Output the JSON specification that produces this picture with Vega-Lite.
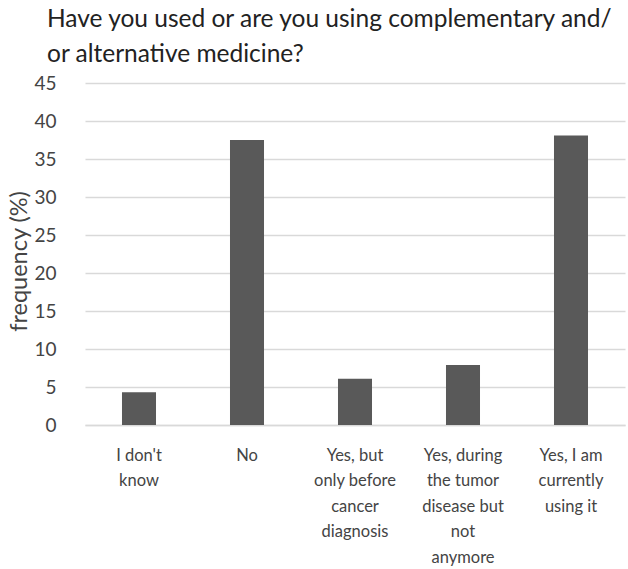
{
  "$schema": "https://vega.github.io/schema/vega-lite/v6.json",
  "autosize": "none",
  "width": 540,
  "height": 342,
  "padding": {"left": 85, "top": 83, "right": 3, "bottom": 144},
  "background": "white",
  "title": {
    "text": ["Have you used or are you using complementary and/", "or alternative medicine?"],
    "anchor": "start",
    "frame": "group",
    "font": "Lato",
    "fontSize": 24.5,
    "fontWeight": "normal",
    "color": "#222222",
    "lineHeight": 35,
    "baseline": "alphabetic",
    "dx": -38,
    "dy": 33,
    "offset": 21
  },
  "data": {
    "values": [
      {"answer": "I don't|know", "frequency": 4.3},
      {"answer": "No", "frequency": 37.5},
      {"answer": "Yes, but|only before|cancer|diagnosis", "frequency": 6.1},
      {"answer": "Yes, during|the tumor|disease but|not|anymore", "frequency": 7.9},
      {"answer": "Yes, I am|currently|using it", "frequency": 38.1}
    ]
  },
  "mark": {"type": "bar", "color": "#595959"},
  "encoding": {
    "x": {
      "field": "answer",
      "type": "nominal",
      "sort": null,
      "title": null,
      "scale": {"paddingInner": 0.685, "paddingOuter": 0.3425},
      "axis": {
        "labelExpr": "split(datum.label, '|')",
        "labelAngle": 0,
        "labelFont": "Lato",
        "labelFontSize": 16.5,
        "labelColor": "#444444",
        "labelLineHeight": 25.5,
        "labelPadding": 22,
        "labelLimit": 200,
        "ticks": false,
        "domainColor": "#d9d9d9",
        "domainWidth": 1.5
      }
    },
    "y": {
      "field": "frequency",
      "type": "quantitative",
      "title": "frequency (%)",
      "scale": {"domain": [0, 45]},
      "axis": {
        "values": [0, 5, 10, 15, 20, 25, 30, 35, 40, 45],
        "labelFont": "Lato",
        "labelFontSize": 19,
        "labelColor": "#444444",
        "labelPadding": 29,
        "ticks": false,
        "domain": false,
        "gridColor": "#d9d9d9",
        "gridWidth": 1.5,
        "titleFont": "Lato",
        "titleFontSize": 23.5,
        "titleFontWeight": "normal",
        "titleColor": "#444444",
        "titleY": 178,
        "titlePadding": 2
      }
    }
  },
  "config": {"view": {"stroke": null}}
}
